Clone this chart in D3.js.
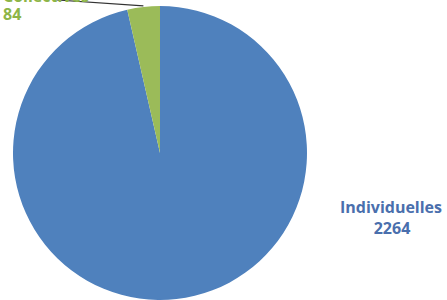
<!DOCTYPE html>
<html>
<head>
<meta charset="utf-8">
<script src="https://d3js.org/d3.v7.min.js"></script>
<style>
  body { margin: 0; background: #fff; }
  text { font-family: "Open Sans", "DejaVu Sans", sans-serif; font-weight: bold; }
</style>
</head>
<body>
<div id="chart"></div>
<script>
// data
const categories = ["Individuelles", "Collectives"];
const values = [2264, 84];
const colors = ["#4f81bd", "#9bbb59"];
const textColors = ["#4a6fad", "#8db547"];

const width = 447, height = 300;
const cx = 160, cy = 153, radius = 147;

const svg = d3.select("#chart").append("svg")
    .attr("width", width)
    .attr("height", height);

const pie = d3.pie().sort(null).value(d => d.value);
const arcs = pie(categories.map((c, i) => ({ name: c, value: values[i], i: i })));
const arc = d3.arc().innerRadius(0).outerRadius(radius);

const g = svg.append("g").attr("transform", `translate(${cx},${cy})`);

g.selectAll("path")
    .data(arcs)
    .enter().append("path")
    .attr("d", arc)
    .attr("fill", d => colors[d.data.i]);

// label for the big slice
svg.append("text")
    .attr("x", 391).attr("y", 213)
    .attr("text-anchor", "middle")
    .attr("font-size", 16)
    .attr("fill", textColors[0])
    .text(categories[0]);
svg.append("text")
    .attr("x", 392).attr("y", 234)
    .attr("text-anchor", "middle")
    .attr("font-size", 16)
    .attr("fill", textColors[0])
    .text(values[0]);

// label for the small slice (its name sits at the top edge, mostly out of view)
const small = arcs[1];
const mid = (small.startAngle + small.endAngle) / 2;
const px = cx + Math.sin(mid) * (radius + 1);
const py = cy - Math.cos(mid) * (radius + 1);
svg.append("path")
    .attr("d", `M${px},${py}L57,0`)
    .attr("stroke", "#333")
    .attr("stroke-width", 1.2)
    .attr("fill", "none");
svg.append("text")
    .attr("x", 3).attr("y", 2)
    .attr("font-size", 16)
    .attr("fill", textColors[1])
    .text(categories[1]);
svg.append("text")
    .attr("x", 3).attr("y", 20)
    .attr("font-size", 16)
    .attr("fill", textColors[1])
    .text(values[1]);
</script>
</body>
</html>
